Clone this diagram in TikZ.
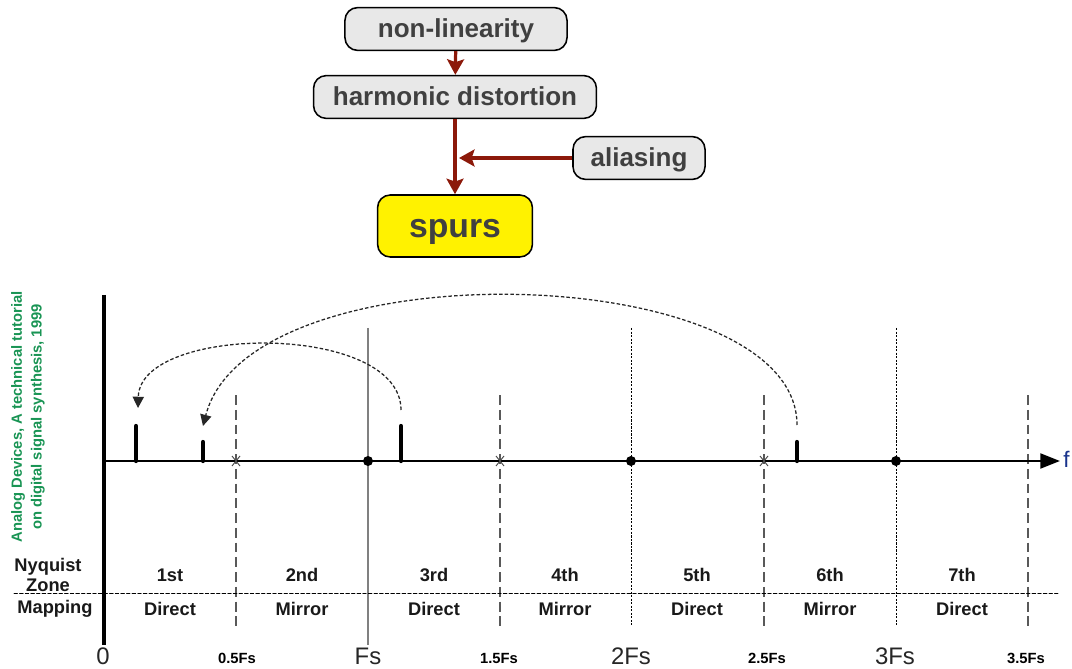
\documentclass[tikz,border=0pt]{standalone}
\usepackage{fontspec}
\setmainfont{Liberation Sans}
\usetikzlibrary{arrows.meta,calc}
\usepackage{tkz-euclide}
\definecolor{FlowClr}{rgb}{0.55,0.1,0.04}
\definecolor{BoxClr}{rgb}{0.91,0.91,0.91}
\definecolor{InkClr}{rgb}{0.25,0.25,0.25}
\definecolor{NoteClr}{rgb}{0.1,0.58,0.33}
\definecolor{FreqClr}{rgb}{0.1,0.2,0.55}
\newcommand{\fsz}[2]{\fontsize{#1}{#2}\selectfont}

\begin{document}
\begin{tikzpicture}[x=0.025cm,y=-0.025cm,
  box/.style={draw=black,line width=1.1pt,rounded corners=9pt,fill=BoxClr,text=InkClr,
    font=\bfseries\fsz{18.5}{22},minimum height=1.07cm,inner sep=0pt,text height=13.3pt,text depth=1.9pt},
  flow/.style={draw=FlowClr,line width=2.3pt,-{Stealth[length=11pt,width=12pt,inset=2pt]}},
  zone/.style={font=\bfseries\fsz{13}{14},text=black!90},
  axlbl/.style={font=\fsz{17}{18},text=black!85},
  fslbl/.style={font=\bfseries\fsz{10.5}{12},text=black},
  fold/.style={draw=black!85,line width=0.9pt,dash pattern=on 2.5pt off 1.5pt,
    -{Triangle[length=8pt,width=8pt]}}]
\useasboundingbox (0,0) rectangle (1072,669);

% cause chain
\node[box,minimum width=5.55cm] (nonlin) at (456,29) {non-linearity};
\node[box,minimum width=7.07cm] (harm) at (455,97) {harmonic distortion};
\node[box,minimum width=3.3cm] (alias) at (639,158) {aliasing};
\node[box,fill=yellow,minimum width=3.87cm,minimum height=1.55cm,font=\bfseries\fsz{24}{28},
  text height=17.3pt,text depth=1.4pt] (spurs) at (455,226) {spurs};
\coordinate (join) at (459,158);
\draw[flow] (nonlin) -- (harm);
\draw[flow] (harm) -- (spurs);
\draw[flow] (alias) -- (join);

% spectrum axes
\tkzDefPoints{104/461/O,104/295/Y,104/645/Yb,1060/461/X}
\tkzDefPoints{236/461/H1,368/461/F1,500/461/H3,631/461/F2,764/461/H5,896/461/F3,1028/461/H7}
\tkzDefPoints{14/593/L1,1058/593/L2}

\foreach \p in {H1,H3,H5,H7}
  \draw[black!65,line width=0.8pt,dash pattern=on 7pt off 3.5pt] ($(\p)+(0,-66)$) -- ($(\p)+(0,167)$);
\draw[black!50,line width=1pt] ($(F1)+(0,-133)$) -- ($(F1)+(0,184)$);
\foreach \p in {F2,F3}
  \draw[black,line width=0.6pt,dash pattern=on 1.5pt off 1pt] ($(\p)+(0,-133)$) -- ($(\p)+(0,165)$);
\tkzDrawSegments[line width=0.6pt,color=black,dash pattern=on 2.5pt off 1.5pt](L1,L2)

\draw[line width=2.2pt] (Y) -- (Yb);
\draw[line width=2pt,-{Triangle[length=14pt,width=10.5pt]}] (O) -- (X);
\node[font=\fsz{16}{18},text=FreqClr,anchor=west,inner sep=0pt] (flbl) at (1063,459) {f};

\foreach \p in {F1,F2,F3} \fill (\p) circle[radius=5];
\foreach \p in {H1,H3,H5}
  \draw[black!70,line width=0.7pt] ($(\p)+(-4,-5)$) -- ($(\p)+(4,5)$) ($(\p)+(-4,5)$) -- ($(\p)+(4,-5)$);

% spurs and their images
\tkzDefPoints{136/461/S1,136/426/T1,203/461/S2,203/442/T2,401/461/S3,401/426/T3,797/461/S4,797/442/T4}
\tkzDrawSegments[line width=3pt,color=black](S1,T1 S2,T2 S3,T3 S4,T4)
\tkzDefPoints{401/410/A0,138/408/A1,797/425/B0,203/426/B1}
\draw[fold] (A0) .. controls (401,322) and (140,324) .. (A1);
\draw[fold] (B0) .. controls (797,260) and (250,245) .. (B1);

% table
\node[zone,align=center] (nyq) at (48,575) {Nyquist\\Zone};
\node[zone] (map) at (55,609) {Mapping};
\foreach \x/\z/\m in {170/1st/Direct,302/2nd/Mirror,434/3rd/Direct,565/4th/Mirror,697/5th/Direct,830/6th/Mirror,962/7th/Direct}{
  \node[zone] (zone\z) at (\x,575) {\z};
  \node[zone] (map\z) at (\x,609) {\m};
}

% frequency labels
\node[axlbl] (lbl0) at (103,656) {0};
\node[axlbl] (lblFs) at (368,656) {Fs};
\node[axlbl] (lbl2Fs) at (631,656) {2Fs};
\node[axlbl] (lbl3Fs) at (895,656) {3Fs};
\foreach \x/\t in {237/0.5Fs,499/1.5Fs,767/2.5Fs,1026/3.5Fs}
  \node[fslbl] (lbl\t) at (\x,658) {\t};

\node[rotate=90,align=center,text=NoteClr,font=\bfseries\fsz{10.5}{14}] (note) at (28,417)
  {Analog Devices, A technical tutorial\\on digital signal synthesis, 1999};
\end{tikzpicture}
\end{document}
